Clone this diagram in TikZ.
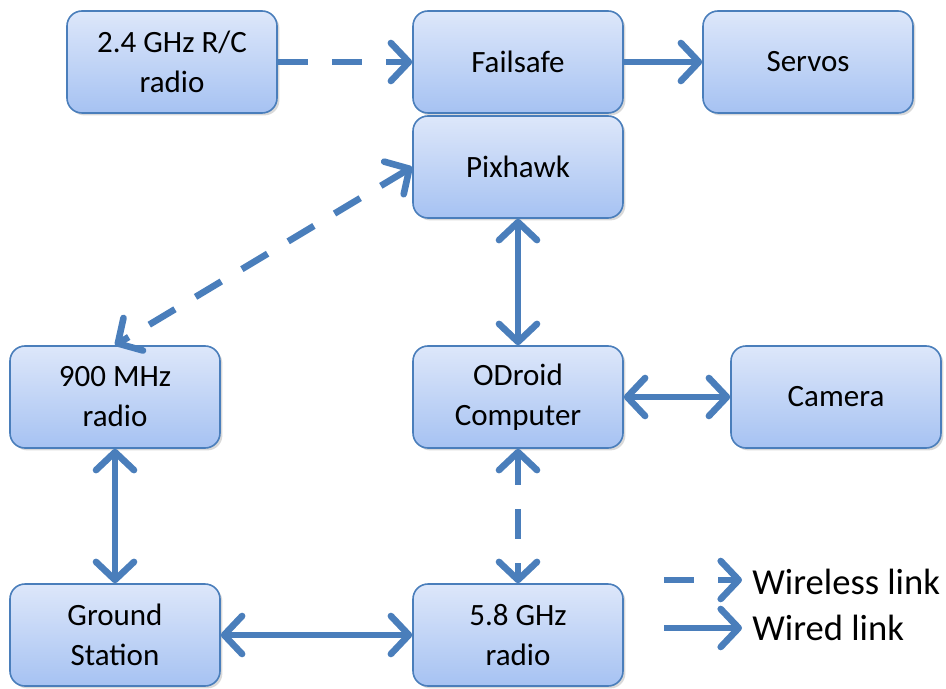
\documentclass[tikz,border=0pt]{standalone}
\usepackage{fontspec}
\setmainfont{Carlito}
\usetikzlibrary{arrows.meta,shadows}
\definecolor{linkblue}{RGB}{74,126,187}
\definecolor{boxtop}{RGB}{221,231,250}
\definecolor{boxbottom}{RGB}{166,194,242}
\begin{document}
\begin{tikzpicture}[x=0.5pt,y=-0.5pt,
    >={Straight Barb[length=9pt,width=19pt,round]},
    block/.style ={draw=linkblue, line width=0.8pt, rounded corners=7.5pt,
      top color=boxtop, bottom color=boxbottom,
      minimum width=105pt, minimum height=51pt, align=center,
      font=\fontsize{15.5}{20}\selectfont,
      drop shadow={opacity=0.3, shadow xshift=1.2pt, shadow yshift=-1.2pt}},
    wired/.style ={draw=linkblue, line width=3.3pt},
    wireless/.style ={wired, dash pattern=on 15pt off 12pt},
    legend/.style ={anchor=west, inner sep=0pt, font=\fontsize{18.3}{22}\selectfont}]
  \useasboundingbox (0,0) rectangle (946,689);
  \node[block] (radio) at (172,62) {2.4 GHz R/C\\radio};
  \node[block] (failsafe) at (518,62) {Failsafe};
  \node[block] (servos) at (808,62) {Servos};
  \node[block] (pixhawk) at (518,167) {Pixhawk};
  \node[block] (telem) at (115,397) {900 MHz\\radio};
  \node[block] (odroid) at (518,397) {ODroid\\Computer};
  \node[block] (camera) at (836,397) {Camera};
  \node[block] (ground) at (115,635) {Ground\\Station};
  \node[block] (video) at (518,635) {5.8 GHz\\radio};

  \draw[wireless, ->] (radio) -- (failsafe);
  \draw[wired, ->] (failsafe) -- (servos);
  \draw[wireless, <->] (pixhawk.west) -- (telem.north);
  \draw[wired, <->] (pixhawk) -- (odroid);
  \draw[wired, <->] (odroid) -- (camera);
  \draw[wireless, <->] (odroid) -- (video);
  \draw[wired, <->] (telem) -- (ground);
  \draw[wired, <->] (ground) -- (video);

  % legend
  \coordinate (wl1) at (664,580);
  \coordinate (wl2) at (742,580);
  \coordinate (wd1) at (664,628);
  \coordinate (wd2) at (742,628);
  \node[legend] (wltext) at (752,582) {Wireless link};
  \node[legend] (wdtext) at (752,628) {Wired link};
  \draw[wireless, ->] (wl1) -- (wl2);
  \draw[wired, ->] (wd1) -- (wd2);
\end{tikzpicture}
\end{document}
